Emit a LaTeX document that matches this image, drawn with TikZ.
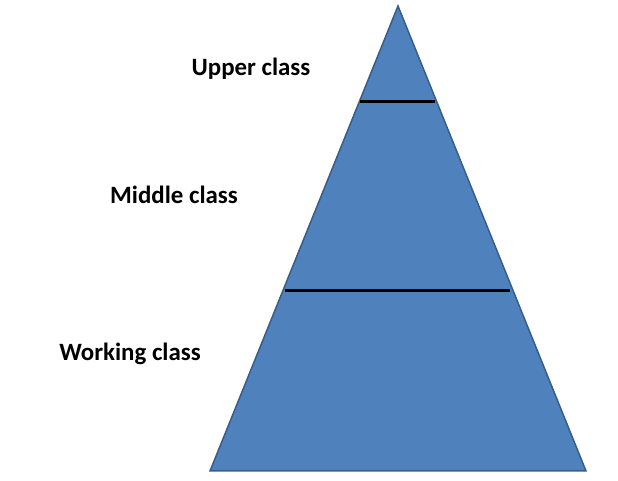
\documentclass[tikz,border=0pt]{standalone}
\usepackage{fontspec}
\setmainfont{Carlito}
\definecolor{fillb}{HTML}{4F81BD}
\definecolor{edgeb}{HTML}{385D8A}
\begin{document}
\begin{tikzpicture}[x=1bp,y=1bp,
  lbl/.style={font=\bfseries\fontsize{25}{30}\selectfont, inner sep=0pt},
  sep/.style={line width=3bp, black}]
\useasboundingbox (0,0) rectangle (618,481);
\coordinate (top) at (398,475);
\coordinate (bl) at (210,10);
\coordinate (br) at (586,10);
\draw[fill=fillb, draw=edgeb, line width=1.5bp] (top) -- (br) -- (bl) -- cycle;
\coordinate (u1) at (360,379); \coordinate (u2) at (435,379);
\coordinate (m1) at (285,190); \coordinate (m2) at (510,190);
\draw[sep] (u1) -- (u2);
\draw[sep] (m1) -- (m2);
\node[lbl] (up) at (251,412) {Upper class};
\node[lbl] (mid) at (174,286) {Middle class};
\node[lbl] (work) at (130,127) {Working class};
\end{tikzpicture}
\end{document}
